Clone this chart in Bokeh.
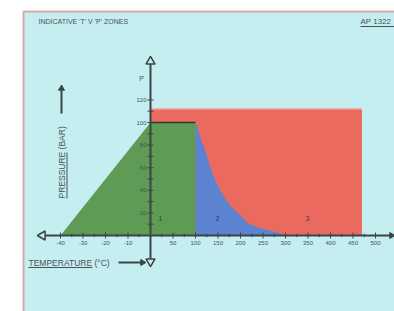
import numpy as np
from bokeh.plotting import figure
from bokeh.models import Range1d
from bokeh.core.properties import value
from bokeh.embed import file_html
from bokeh.resources import INLINE

# ---------------- data ----------------
temp_ticks = [-40, -30, -20, -10, 50, 100, 150, 200, 250, 300, 350, 400, 450, 500]
press_ticks = [20, 40, 60, 80, 100, 120]
press_minor = [10, 20, 30, 40, 50, 60, 70, 80, 90, 100, 110, 120]

zone1_T = [-40, 0, 100, 100]
zone1_P = [0, 100, 100, 0]

zone2_T = [100, 100, 105, 112, 122, 133, 144, 155, 165, 180, 200, 215, 240, 270, 290, 300]
zone2_P = [0, 100, 95, 85, 75, 60, 49, 40, 33, 25, 18, 11, 7, 4, 1.5, 0]

zone3_T = [0, 470]
zone3_P = [0, 112]

zone_names = ["1", "2", "3"]
zone_label_T = [22, 149, 349]
zone_label_P = [15, 15, 15]

title_text = "INDICATIVE 'T' V 'P' ZONES"
ref_text = "AP 1322"

# ------------- broken temperature scale (10 °C / unit below 0, 50 °C / unit above) -------------
def kx(T):
    a = np.atleast_1d(np.asarray(T, dtype=float))
    return np.where(a < 0, a / 10.0, a / 50.0)

X0, SX, Y0, SY = 150.0, 22.5, 235.0, 1.13
def px(x):
    return (x - X0) / SX
def py(y):
    return (Y0 - y) / SY

BG = "#c4eef0"
RED = "#ea6a60"
GREEN = "#5e9b55"
BLUE = "#5b83cf"
AX = "#3c4448"
TXT = "#4a5258"
BORDER = "#e0a0a4"
FONT = value("Liberation Sans")

p = figure(width=394, height=311,
           x_range=Range1d(px(22), px(394)), y_range=Range1d(py(311), py(10)),
           output_backend="svg", toolbar_location=None,
           x_axis_location=None, y_axis_location=None,
           min_border_left=22, min_border_right=0, min_border_top=10, min_border_bottom=0)
p.grid.visible = False
p.background_fill_color = BG
p.border_fill_color = "white"
p.outline_line_color = None

# panel border (left and top)
p.line([px(23), px(23)], [py(311), py(11)], line_color=BORDER, line_width=2)
p.line([px(23), px(394)], [py(11), py(11)], line_color=BORDER, line_width=2)

# zones
p.quad(left=kx([zone3_T[0]]), right=kx([zone3_T[1]]), bottom=[zone3_P[0]], top=[zone3_P[1]],
       fill_color=RED, line_color=None)
p.line(kx(zone3_T), [zone3_P[1]] * 2, line_color="#f3a19a", line_width=1.5)
p.patch(kx(zone1_T), zone1_P, fill_color=GREEN, line_color=None)
p.patch(kx(zone2_T), zone2_P, fill_color=BLUE, line_color=None)
p.line(kx(zone1_T[1:3]), zone1_P[1:3], line_color="#2b3a2c", line_width=1.5)

# axes
p.line([px(42), px(390)], [0, 0], line_color=AX, line_width=2)
p.line([0, 0], [py(259), py(62)], line_color=AX, line_width=2)
tk = kx(temp_ticks)
p.segment(x0=tk, y0=-2.6, x1=tk, y1=2.6, line_color=AX, line_width=1)
mk = np.concatenate([np.arange(-3.5, 0, 1.0), np.arange(0.5, 10.5, 1.0)])
p.segment(x0=mk, y0=-1.5, x1=mk, y1=1.5, line_color=AX, line_width=1)
p.segment(x0=px(147), y0=press_minor, x1=px(153), y1=press_minor, line_color=AX, line_width=1)

# arrow heads
p.scatter([px(42)], [0], marker="triangle", angle=np.pi / 2, size=9,
          fill_color=BG, line_color=AX, line_width=1.5)
p.scatter([px(391)], [0], marker="triangle", angle=-np.pi / 2, size=6,
          fill_color=AX, line_color=AX)
p.scatter([0], [py(61)], marker="triangle", size=9,
          fill_color=BG, line_color=AX, line_width=1.5)
p.scatter([0], [py(261)], marker="triangle", angle=np.pi, size=9,
          fill_color=BG, line_color=AX, line_width=1.5)

# tick labels
p.text(x=tk, y=py(242), text=[str(t) for t in temp_ticks], text_font=FONT,
       text_font_size="6px", text_color=TXT, text_align="center", text_baseline="middle")
p.text(x=px(146), y=press_ticks, text=[str(v) for v in press_ticks], text_font=FONT,
       text_font_size="6px", text_color=TXT, text_align="right", text_baseline="middle")
p.text(x=[px(141)], y=[py(78)], text=["P"], text_font=FONT, text_font_size="7px",
       text_color=TXT, text_align="center", text_baseline="middle")

# zone labels
p.text(x=kx(zone_label_T), y=zone_label_P, text=zone_names, text_font=FONT,
       text_font_size="7px", text_color="#3a3f44", text_align="center", text_baseline="middle")

# title and reference
p.text(x=[px(38)], y=[py(21)], text=[title_text], text_font=FONT, text_font_size="7px",
       text_color=TXT, text_align="left", text_baseline="middle")
p.text(x=[px(360)], y=[py(21)], text=[ref_text], text_font=FONT, text_font_size="8px",
       text_color=TXT, text_align="left", text_baseline="middle")
p.line([px(360), px(394)], [py(26), py(26)], line_color=TXT, line_width=1)

# pressure label (vertical)
p.text(x=[px(61)], y=[py(198)], text=["PRESSURE (BAR)"], angle=np.pi / 2, text_font=FONT,
       text_font_size="8.5px", text_color=TXT, text_align="left", text_baseline="middle")
p.line([px(66.5), px(66.5)], [py(198), py(152)], line_color=TXT, line_width=1)
p.line([px(61), px(61)], [py(113), py(90)], line_color=AX, line_width=2)
p.scatter([px(61)], [py(88)], marker="triangle", size=6, fill_color=AX, line_color=AX)

# temperature label
p.text(x=[px(28)], y=[py(262)], text=["TEMPERATURE (\u00b0C)"], text_font=FONT,
       text_font_size="8.5px", text_color=TXT, text_align="left", text_baseline="middle")
p.line([px(28), px(92)], [py(267), py(267)], line_color=TXT, line_width=1)
p.line([px(118), px(141)], [py(262), py(262)], line_color=AX, line_width=2)
p.scatter([px(142)], [py(262)], marker="triangle", angle=-np.pi / 2, size=6,
          fill_color=AX, line_color=AX)

open("out.html", "w").write(file_html(p, INLINE))
